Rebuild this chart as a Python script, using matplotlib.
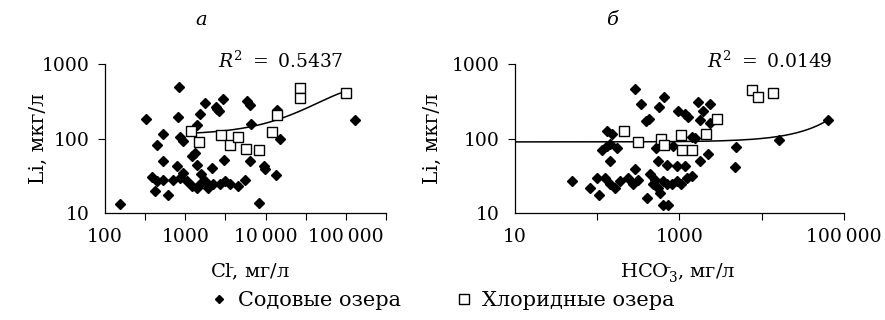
import numpy as np
import matplotlib
matplotlib.use("Agg")
import matplotlib.pyplot as plt
from matplotlib.lines import Line2D

plt.rcParams["font.family"] = ["DejaVu Serif"]
plt.rcParams["mathtext.fontset"] = "dejavuserif"

# --- data ---
# panel a: Cl- (mg/l) vs Li (mkg/l)
cl_soda_x = [154, 841, 1753, 2402, 2642, 2500, 2960, 5890, 6360, 324, 817, 1520,
             1406, 522, 440, 857, 942, 6670, 15000, 1197, 1316, 532, 794, 1380,
             3020, 6360, 9500, 9700, 13650, 381, 440, 532, 708, 857, 942, 1037,
             1197, 1380, 1592, 1753, 2122, 2223, 2693, 3110, 3590, 4550, 5510,
             1520, 1928, 419, 614, 8300, 14060, 131000]
cl_soda_y = [13.1, 490, 301, 263, 233, 250, 344, 317, 286, 185, 193, 214,
             153, 115, 83, 104, 92, 157, 99, 59, 64, 49, 42, 44,
             52, 49, 42, 39, 32, 30, 26.5, 28, 28, 29, 34, 26.5,
             22.7, 21.5, 33, 26.5, 40, 24, 24, 26.5, 24, 22.7, 28,
             24, 21.5, 19.4, 17.2, 13.5, 244, 179]
cl_chlor_x = [1163, 1489, 2825, 3657, 4550, 5670, 8300, 12160, 13900, 26600, 26600, 101000]
cl_chlor_y = [127, 90, 110, 83, 104, 73, 69, 121, 209, 480, 351, 410]

# panel б: HCO3- (mg/l) vs Li (mkg/l)
hco_soda_x = [287, 337, 646, 568, 429, 391, 966, 1163, 1277, 1688, 2341, 1942,
              1770, 2341, 130, 150, 113, 130, 143, 172, 143, 517, 552, 697,
              922, 1163, 1770, 2235, 840, 1539, 1403, 50, 81.5, 106, 98, 124,
              143, 164, 189, 238, 287, 274, 315, 437, 502, 480, 552, 634, 697,
              801, 922, 1032, 1219, 1403, 398, 634, 729, 578, 4845, 4710,
              16290, 64100]
hco_soda_y = [469, 292, 359, 263, 185, 171, 233, 214, 193, 310, 292, 233,
              179, 162, 125, 115, 70.6, 79, 84, 74.5, 49, 74.5, 49, 43.5,
              42, 42, 49, 61, 79, 102, 104, 27, 21.5, 17.2, 29, 29,
              24, 21.5, 26.5, 29, 39, 24, 28, 33, 28, 24, 21.5, 26.5, 24,
              24, 26.5, 24, 29, 31, 15.8, 12.8, 12.8, 18.4, 77, 41,
              95, 178]
hco_chlor_x = [211, 315, 589, 646, 1032, 1060, 1403, 2093, 2823, 7510, 9050, 13760]
hco_chlor_y = [125, 90, 99, 83, 112, 70.6, 70.6, 115, 185, 455, 359, 410]

# trend lines as shown in the source (coefficients)
cl_trend_poly = [-1.85e-8, 0.00506, 112.0]   # y = c2*x^2 + c1*x + c0, chloride lakes
hco_trend_exp = [90.0, 1.064e-5]             # y = a*exp(b*x), soda lakes
r2_labels = ["0.5437", "0.0149"]
panel_titles = ["а", "б"]

cl_ticks = [100, 10**2.5, 1000, 10**3.5, 10000, 10**4.5, 100000, 10**5.5]
cl_ticklabels = ["100", "", "1000", "", "10\u2009000", "", "100\u2009000", ""]
hco_ticks = [10, 100, 1000, 10000, 100000]
hco_ticklabels = ["10", "", "1000", "", "100\u2009000"]
li_ticks = [10, 100, 1000]
li_ticklabels = ["10", "100", "1000"]

W, H = 885, 320
fig = plt.figure(figsize=(W / 100, H / 100), dpi=100)


def px(x, y):
    return x / W, 1 - y / H


ax1 = fig.add_axes([105 / W, 1 - 212.7 / H, 281 / W, 148.4 / H])
ax2 = fig.add_axes([515 / W, 1 - 212.7 / H, 329 / W, 148.4 / H])

# trend curves
xx1 = np.logspace(np.log10(min(cl_chlor_x)), np.log10(max(cl_chlor_x)), 200)
yy1 = np.polyval(cl_trend_poly, xx1)
xx2 = np.logspace(1, np.log10(max(hco_soda_x)), 200)
yy2 = hco_trend_exp[0] * np.exp(hco_trend_exp[1] * xx2)

panels = [
    (ax1, cl_soda_x, cl_soda_y, cl_chlor_x, cl_chlor_y, xx1, yy1, (100, 10**5.5), cl_ticks, cl_ticklabels),
    (ax2, hco_soda_x, hco_soda_y, hco_chlor_x, hco_chlor_y, xx2, yy2, (10, 100000), hco_ticks, hco_ticklabels),
]

for ax, sx, sy, chx, chy, tx, ty, xlim, xt, xtl in panels:
    ax.set_xscale("log")
    ax.set_yscale("log")
    ax.plot(sx, sy, "D", color="black", ms=5.2, zorder=2)
    ax.plot(tx, ty, color="black", lw=1.1, zorder=3)
    ax.plot(chx, chy, "s", mfc="white", mec="black", mew=1.0, ms=7.6, zorder=4)

    ax.set_xlim(*xlim)
    ax.set_ylim(10, 1000)
    ax.minorticks_off()
    ax.set_xticks(xt)
    ax.set_xticklabels(xtl)
    ax.set_yticks(li_ticks)
    ax.set_yticklabels(li_ticklabels)
    ax.xaxis.get_major_ticks()[0].tick1line.set_visible(False)
    ax.yaxis.get_major_ticks()[0].tick1line.set_visible(False)
    ax.tick_params(direction="out", length=5, width=0.8, labelsize=13.5, pad=6)
    for s in ["top", "right"]:
        ax.spines[s].set_visible(False)
    for s in ["left", "bottom"]:
        ax.spines[s].set_linewidth(0.9)

# panel letters
fig.text(*px(201, 20), panel_titles[0], style="italic", fontsize=14, ha="center", va="center")
fig.text(*px(612, 20), panel_titles[1], style="italic", fontsize=14, ha="center", va="center")

# R^2 labels
fig.text(*px(281, 61), r"$R^2\ =\ $" + r2_labels[0], fontsize=13.5, ha="center", va="center")
fig.text(*px(770, 61), r"$R^2\ =\ $" + r2_labels[1], fontsize=13.5, ha="center", va="center")

# axis labels
fig.text(*px(38, 139), "Li, мкг/л", rotation=90, fontsize=14.5, ha="center", va="center")
fig.text(*px(432, 139), "Li, мкг/л", rotation=90, fontsize=14.5, ha="center", va="center")
fig.text(*px(250, 272), r"Cl$^{\bar{}}$, мг/л", fontsize=14, ha="center", va="center")
fig.text(*px(678, 272), r"HCO$_3^{\bar{}}$, мг/л", fontsize=14, ha="center", va="center")

handles = [
    Line2D([], [], ls="none", marker="D", color="black", ms=4.5),
    Line2D([], [], ls="none", marker="s", mfc="white", mec="black", mew=1.0, ms=7),
]
fig.legend(handles, ["Содовые озера", "Хлоридные озера"], loc="center",
           bbox_to_anchor=px(443, 301), ncol=2, frameon=False, fontsize=15,
           handlelength=0.8, handletextpad=0.5, columnspacing=2.6)

fig.savefig("out.png", dpi=100)
